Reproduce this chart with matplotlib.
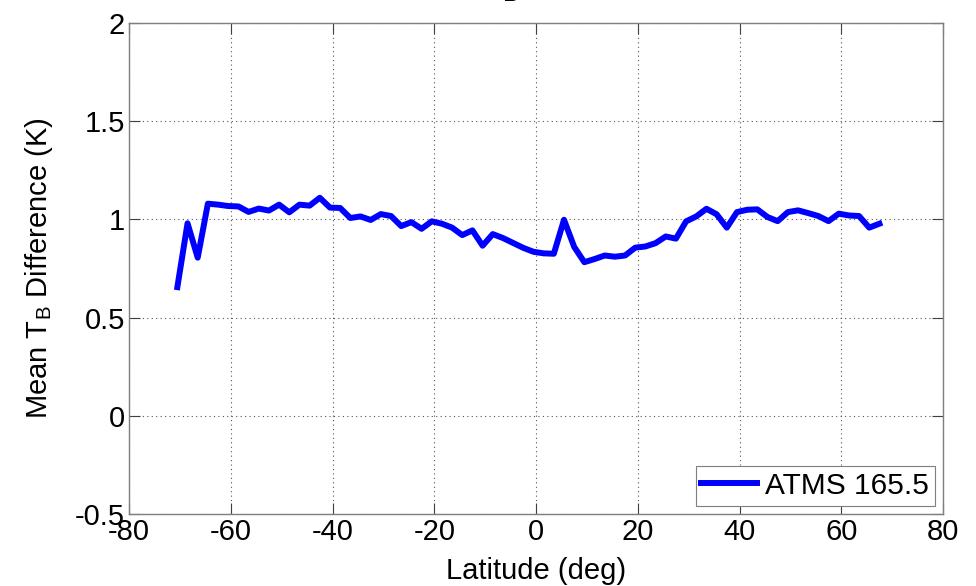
import numpy as np
import matplotlib
matplotlib.use('Agg')
import matplotlib.pyplot as plt

plt.rcParams['font.family'] = ['Liberation Sans', 'DejaVu Sans']
plt.rcParams['font.size'] = 21
plt.rcParams['axes.unicode_minus'] = False

# latitude bins (deg) and mean TB difference (K)
lat = [-70.5, -68.5, -66.5, -64.5, -62.5, -60.5, -58.5, -56.5, -54.5, -52.5,
       -50.5, -48.5, -46.5, -44.5, -42.5, -40.5, -38.5, -36.5, -34.5, -32.5,
       -30.5, -28.5, -26.5, -24.5, -22.5, -20.5, -18.5, -16.5, -14.5, -12.5,
       -10.5, -8.5, -6.5, -4.5, -2.5, -0.5, 1.5, 3.5, 5.5, 7.5,
       9.5, 11.5, 13.5, 15.5, 17.5, 19.5, 21.5, 23.5, 25.5, 27.5,
       29.5, 31.5, 33.5, 35.5, 37.5, 39.5, 41.5, 43.5, 45.5, 47.5,
       49.5, 51.5, 53.5, 55.5, 57.5, 59.5, 61.5, 63.5, 65.5, 67.5]
tb_diff = [0.655, 0.98, 0.805, 1.08, 1.075, 1.068, 1.066, 1.038, 1.055, 1.045,
           1.075, 1.036, 1.075, 1.07, 1.11, 1.06, 1.058, 1.007, 1.015, 0.997,
           1.027, 1.017, 0.966, 0.986, 0.952, 0.99, 0.978, 0.958, 0.92, 0.944,
           0.866, 0.925, 0.905, 0.88, 0.855, 0.835, 0.827, 0.825, 0.998, 0.86,
           0.782, 0.798, 0.816, 0.81, 0.816, 0.856, 0.862, 0.879, 0.913, 0.902,
           0.99, 1.015, 1.054, 1.026, 0.958, 1.037, 1.049, 1.051, 1.012, 0.991,
           1.037, 1.046, 1.032, 1.017, 0.991, 1.029, 1.02, 1.017, 0.958, 0.978]

xticks = [-80, -60, -40, -20, 0, 20, 40, 60, 80]
yticks = [-0.5, 0, 0.5, 1, 1.5, 2]
yticklabels = ['-0.5', '0', '0.5', '1', '1.5', '2']

fig = plt.figure(figsize=(9.76, 5.86), dpi=100)
ax = fig.add_axes([0.1322, 0.1229, 0.834, 0.8379])

ax.plot(lat, tb_diff, color='#0000ff', lw=4.3, label='ATMS 165.5')

ax.set_xlim(-80, 80)
ax.set_ylim(-0.5, 2)
ax.set_xticks(xticks)
ax.set_yticks(yticks)
ax.set_yticklabels(yticklabels)
ax.grid(True, linestyle=(0, (1, 3)), color='#555555', lw=0.8)
ax.tick_params(direction='in', length=8, width=0.8, color='#404040',
               top=True, right=True, pad=3)
for s in ax.spines.values():
    s.set_color('#7f7f7f')
    s.set_linewidth(1)

ax.set_xlabel('Latitude (deg)', labelpad=8)
ax.set_ylabel(r'Mean T$_\mathregular{B}$ Difference (K)', labelpad=14)

# title sits mostly above the visible area, only the subscript shows
ax.set_title(r'Mean T$_\mathregular{B}$ Difference', y=1.057, pad=0)

leg = ax.legend(loc='lower right', fancybox=False, framealpha=1,
                edgecolor='#7f7f7f', borderpad=0.2, handlelength=1.85,
                handletextpad=0.27, borderaxespad=0.28,
                prop={'size': 21.5})
leg.get_frame().set_linewidth(0.8)

fig.savefig('out.png', dpi=100)
